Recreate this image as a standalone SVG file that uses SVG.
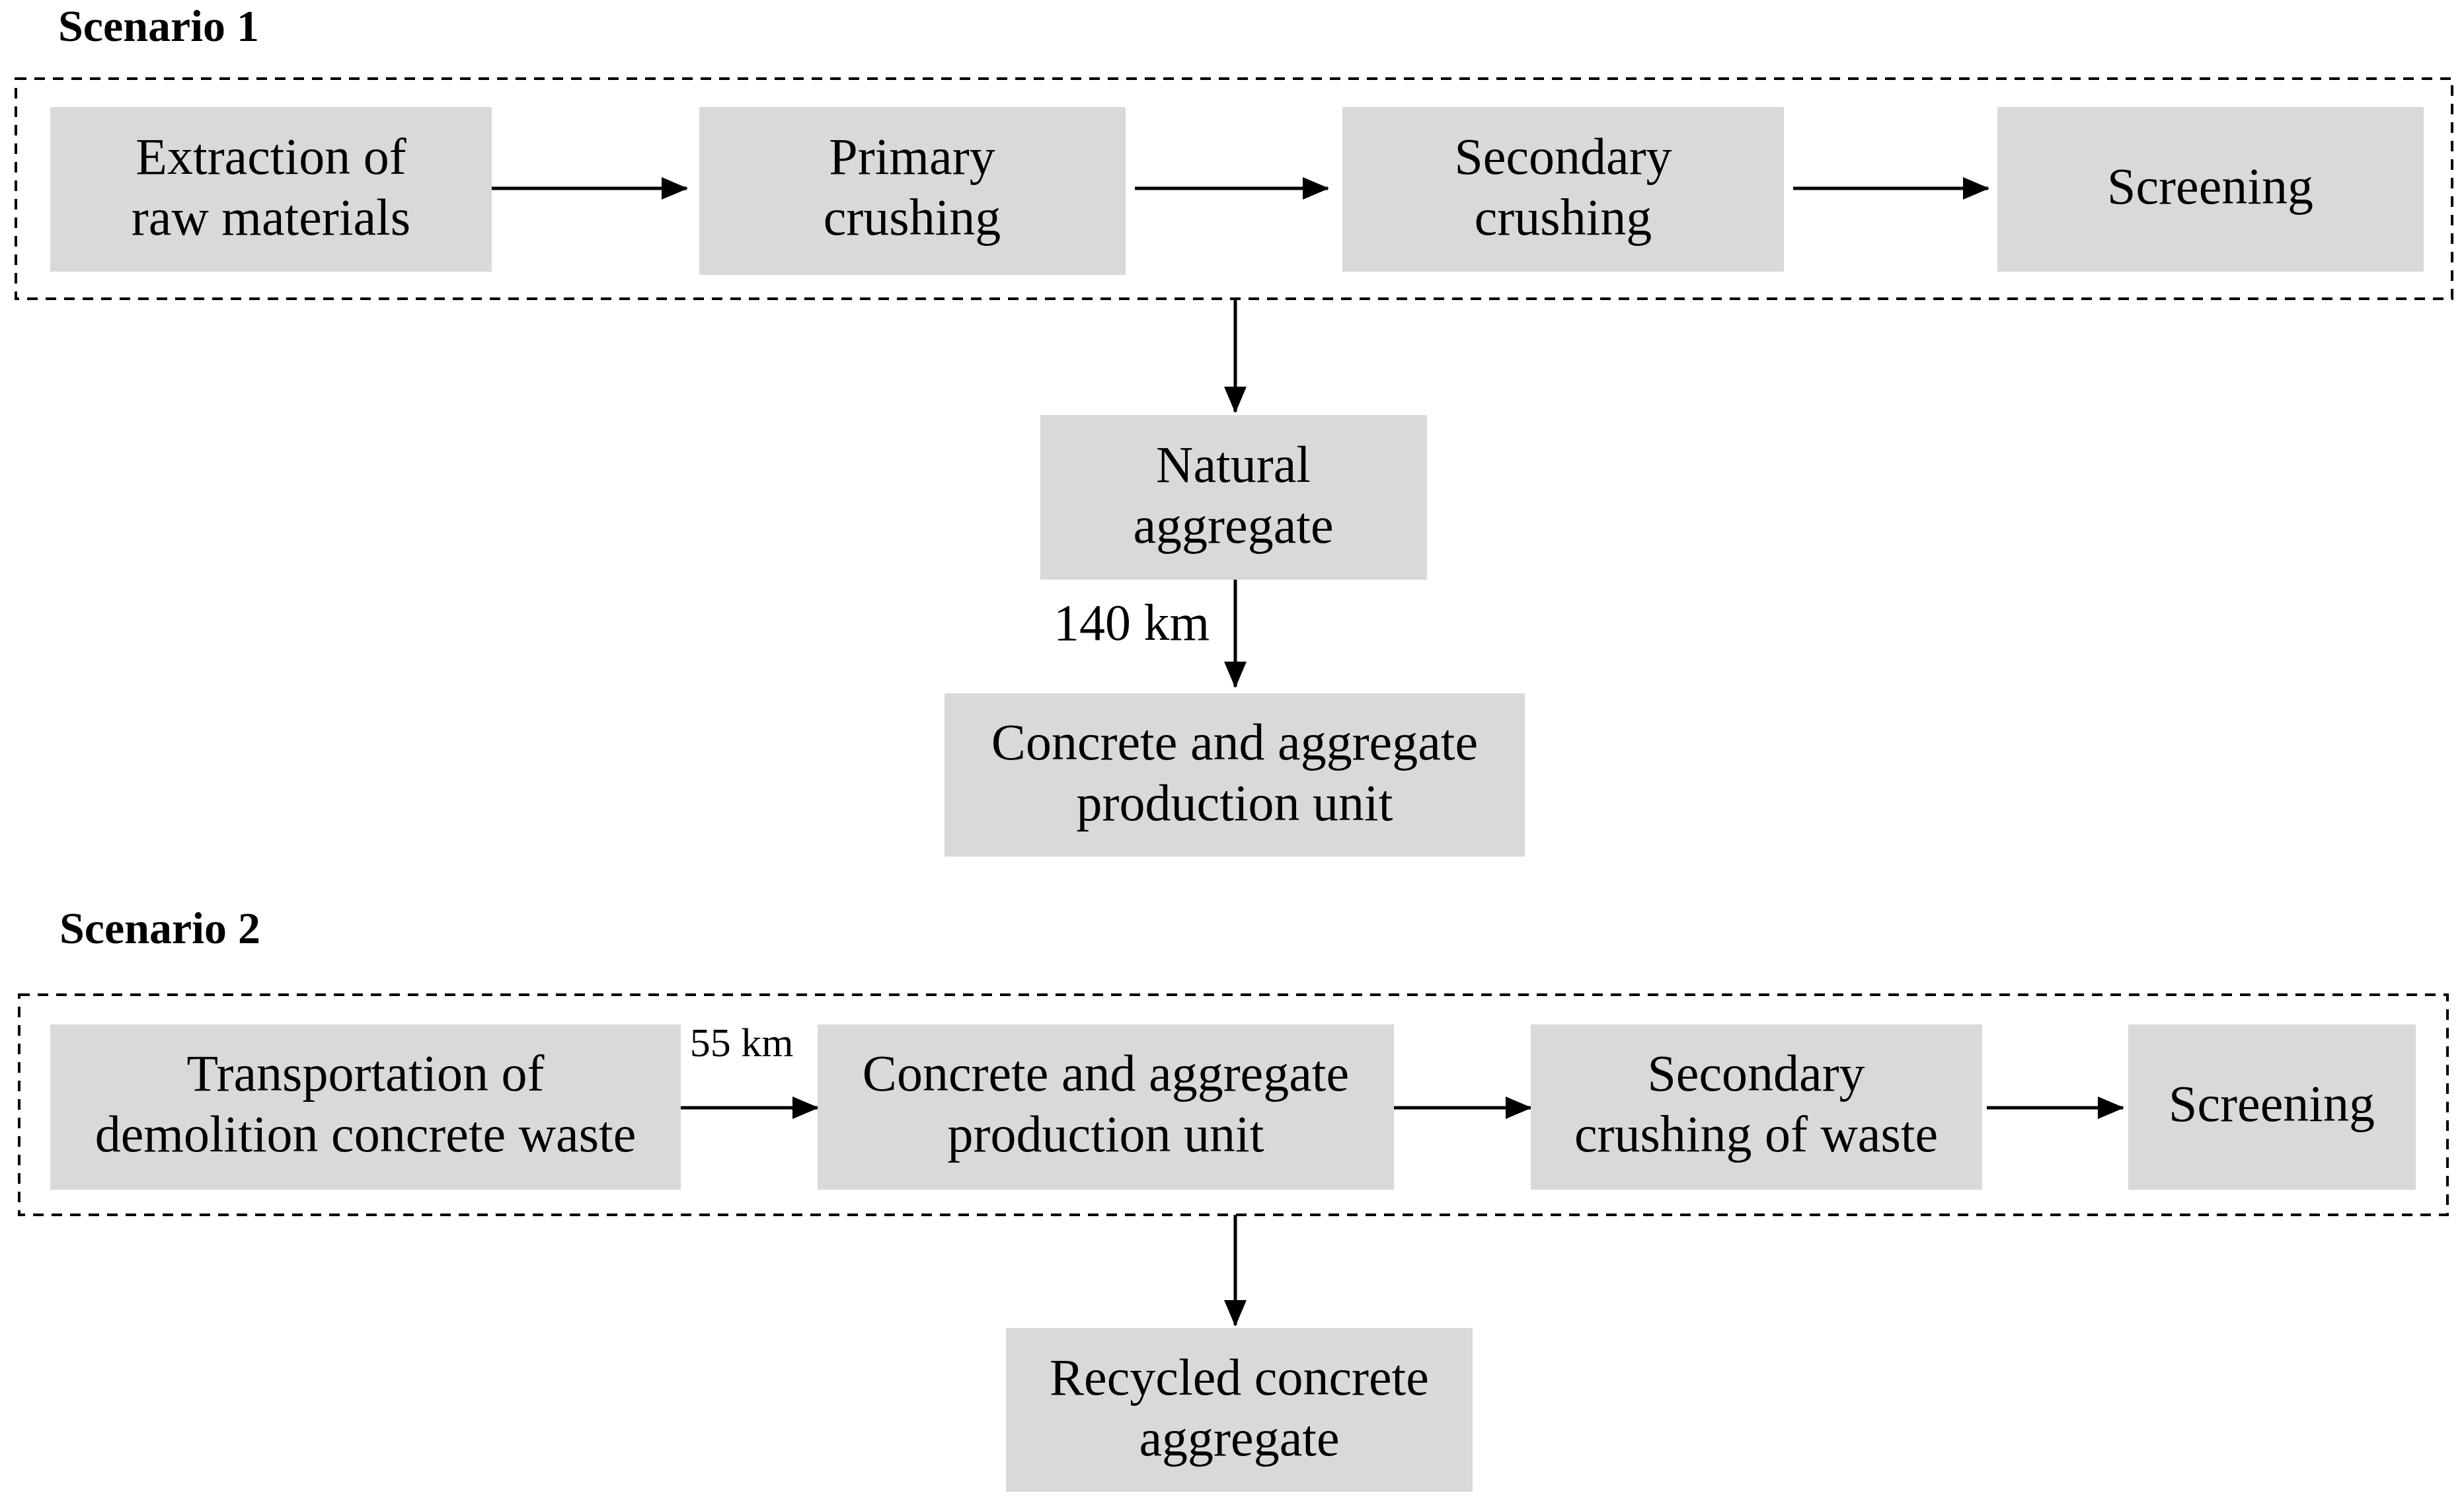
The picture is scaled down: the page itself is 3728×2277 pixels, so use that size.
<svg xmlns="http://www.w3.org/2000/svg" width="3728" height="2277" viewBox="0 0 3728 2277">
<style>
.n{fill:#d9d9d9}
.t{font-family:"Liberation Serif","Times New Roman",serif;font-size:78px;fill:#000;text-anchor:middle}
.h{font-family:"Liberation Serif","Times New Roman",serif;font-size:68px;font-weight:bold;fill:#000}
.d{fill:none;stroke:#000;stroke-width:4;stroke-dasharray:16 12}
.c{stroke:#000;stroke-width:5;fill:none;marker-end:url(#a)}
</style>
<defs>
<marker id="a" markerUnits="userSpaceOnUse" markerWidth="40" markerHeight="34" refX="38" refY="17" orient="auto"><path d="M0,0 L40,17 L0,34 Z" fill="#000"/></marker>
</defs>
<rect width="3728" height="2277" fill="#fff"/>
<text class="h" x="88" y="62">Scenario 1</text>
<text class="h" x="90" y="1427">Scenario 2</text>
<rect class="d" x="24" y="119" width="3686" height="333"/>
<rect class="d" x="29" y="1505" width="3674" height="333"/>
<g id="connectors">
<line class="c" x1="744" y1="285" x2="1039" y2="285"/>
<line class="c" x1="1717" y1="285" x2="2009" y2="285"/>
<line class="c" x1="2713" y1="285" x2="3008" y2="285"/>
<line class="c" x1="1869" y1="452" x2="1869" y2="623"/>
<line class="c" x1="1869" y1="877" x2="1869" y2="1039"/>
<line class="c" x1="1030" y1="1676" x2="1237" y2="1676"/>
<line class="c" x1="2109" y1="1676" x2="2316" y2="1676"/>
<line class="c" x1="3006" y1="1676" x2="3212" y2="1676"/>
<line class="c" x1="1869" y1="1838" x2="1869" y2="2005"/>
<text class="t" x="1712" y="968">140 km</text>
<text class="t" x="1122" y="1598" style="font-size:62px">55 km</text>
</g>
<g id="n1"><rect class="n" x="76" y="162" width="668" height="249"/><text class="t" x="410" y="263">Extraction of</text><text class="t" x="410" y="355">raw materials</text></g>
<g id="n2"><rect class="n" x="1058" y="162" width="645" height="254"/><text class="t" x="1380" y="263">Primary</text><text class="t" x="1380" y="355">crushing</text></g>
<g id="n3"><rect class="n" x="2031" y="162" width="668" height="249"/><text class="t" x="2365" y="263">Secondary</text><text class="t" x="2365" y="355">crushing</text></g>
<g id="n4"><rect class="n" x="3022" y="162" width="645" height="249"/><text class="t" x="3344" y="308">Screening</text></g>
<g id="n5"><rect class="n" x="1574" y="628" width="585" height="249"/><text class="t" x="1866" y="729">Natural</text><text class="t" x="1866" y="821">aggregate</text></g>
<g id="n6"><rect class="n" x="1429" y="1049" width="878" height="247"/><text class="t" x="1868" y="1149">Concrete and aggregate</text><text class="t" x="1868" y="1241">production unit</text></g>
<g id="m1"><rect class="n" x="76" y="1550" width="954" height="250"/><text class="t" x="553" y="1650">Transportation of</text><text class="t" x="553" y="1742">demolition concrete waste</text></g>
<g id="m2"><rect class="n" x="1237" y="1550" width="872" height="250"/><text class="t" x="1673" y="1650">Concrete and aggregate</text><text class="t" x="1673" y="1742">production unit</text></g>
<g id="m3"><rect class="n" x="2316" y="1550" width="683" height="250"/><text class="t" x="2657" y="1650">Secondary</text><text class="t" x="2657" y="1742">crushing of waste</text></g>
<g id="m4"><rect class="n" x="3220" y="1550" width="435" height="250"/><text class="t" x="3437" y="1696">Screening</text></g>
<g id="m5"><rect class="n" x="1522" y="2009" width="706" height="248"/><text class="t" x="1875" y="2110">Recycled concrete</text><text class="t" x="1875" y="2202">aggregate</text></g>
</svg>
